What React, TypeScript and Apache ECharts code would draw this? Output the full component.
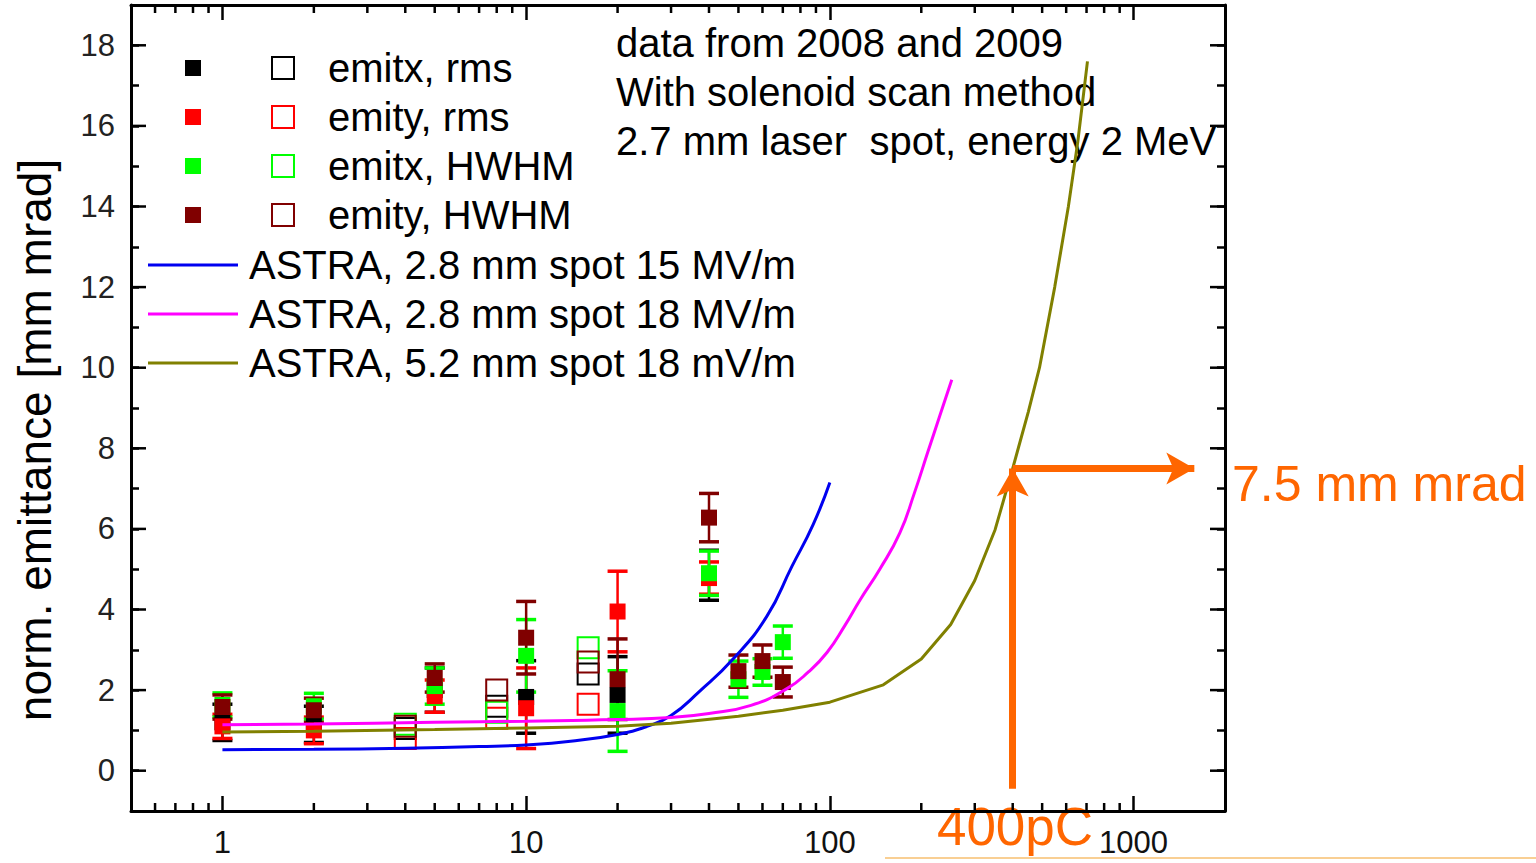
import React, { useEffect, useRef } from "react";
import * as echarts from "echarts";

const FONT = '"Liberation Sans", Arial, Helvetica, sans-serif';

// Axis ranges (x: bunch charge in pC, log scale; y: emittance)
const X_MIN = 0.5;
const X_MAX = 2000;
const Y_MIN = -1;
const Y_MAX = 19;

const xMinorTicks = [
  0.6, 0.7, 0.8, 0.9, 2, 3, 4, 5, 6, 7, 8, 9, 20, 30, 40, 50, 60, 70, 80, 90,
  200, 300, 400, 500, 600, 700, 800, 900,
];
const yMajorTicks = [0, 2, 4, 6, 8, 10, 12, 14, 16, 18];

// Measured points: [charge, emittance, error]
const emitxRms = [[1, 1.2, 0.45], [2, 1.15, 0.45], [5, 2.0, 0.55], [10, 1.83, 0.9], [20, 1.88, 0.95], [40, 4.85, 0.62]];
const emityRms = [[1, 1.1, 0.3], [2, 1.0, 0.33], [5, 1.85, 0.4], [10, 1.55, 1.0], [20, 3.95, 1.0], [40, 4.78, 0.4]];
const emitxHwhm = [[1, 1.63, 0.3], [2, 1.6, 0.32], [5, 2.1, 0.45], [10, 2.85, 0.9], [20, 1.48, 1.0], [40, 4.9, 0.55], [50, 2.27, 0.45], [60, 2.45, 0.33], [70, 3.19, 0.4]];
const emityHwhm = [[1, 1.58, 0.3], [2, 1.5, 0.3], [5, 2.3, 0.35], [10, 3.3, 0.9], [20, 2.27, 1.0], [40, 6.28, 0.6], [50, 2.47, 0.4], [60, 2.72, 0.4], [70, 2.2, 0.37]];

// Open-symbol points: [charge, emittance]
const emitxRmsOpen = [[4, 1.05], [8, 1.6], [16, 2.4]];
const emityRmsOpen = [[4, 0.8], [8, 1.3], [16, 1.65]];
const emitxHwhmOpen = [[4, 1.15], [8, 1.45], [16, 3.05]];
const emityHwhmOpen = [[4, 1.1], [8, 2.0], [16, 2.7]];

// ASTRA simulations
const astra15X = [1, 2, 4, 7, 10, 14, 20, 25, 30, 37, 48, 62, 75, 88, 100];
const astra15Y = [0.52, 0.53, 0.56, 0.6, 0.64, 0.73, 0.9, 1.1, 1.37, 1.95, 2.77, 3.83, 5.07, 6.1, 7.15];
const astra18X = [1, 2, 5, 10, 20, 30, 40, 55, 72, 85, 98, 112, 126, 146, 170, 190, 210, 230, 252];
const astra18Y = [1.14, 1.16, 1.2, 1.23, 1.27, 1.32, 1.42, 1.62, 2.03, 2.45, 2.94, 3.6, 4.25, 5.0, 5.9, 6.9, 7.9, 8.8, 9.7];
const astraWideX = [1, 2, 5, 10, 20, 30, 50, 70, 100, 150, 200, 250, 300, 350, 400, 450, 490, 550, 610, 655, 705];
const astraWideY = [0.96, 0.98, 1.02, 1.06, 1.1, 1.18, 1.35, 1.5, 1.7, 2.13, 2.77, 3.63, 4.72, 5.98, 7.5, 8.9, 10.0, 12.0, 14.0, 15.6, 17.6];

// Highlighted working point
const markCharge = 400;
const markEmittance = 7.5;

const pointLegend = ["emitx, rms", "emity, rms", "emitx, HWHM", "emity, HWHM"];
const pointColors = ["#000000", "#FF0000", "#00FF00", "#800000"];
const lineLegend = [
  "ASTRA, 2.8 mm spot 15 MV/m",
  "ASTRA, 2.8 mm spot 18 MV/m",
  "ASTRA, 5.2 mm spot 18 mV/m",
];
const lineColors = ["#0000F0", "#FF00FF", "#808000"];
const infoLines = [
  "data from 2008 and 2009",
  "With solenoid scan method",
  "2.7 mm laser  spot, energy 2 MeV",
];

const ORANGE = "#FF6600";

function zip(xs: number[], ys: number[]) {
  return xs.map((x, i) => [x, ys[i]]);
}

function textEl(text: string, x: number, y: number, size: number, color: string, align = "left", extra: any = {}) {
  return {
    type: "text",
    x,
    y,
    silent: true,
    ...extra,
    style: {
      text,
      fill: color,
      font: `${size}px ${FONT}`,
      align,
      textAlign: align,
      verticalAlign: "middle",
      textVerticalAlign: "middle",
    },
  };
}

function errorBarSeries(data: number[][], color: string) {
  return {
    type: "custom",
    coordinateSystem: "cartesian2d",
    silent: true,
    clip: false,
    data,
    encode: { x: 0, y: 1 },
    renderItem: (_p: any, api: any) => {
      const x = api.value(0);
      const y = api.value(1);
      const e = api.value(2);
      const hi = api.coord([x, y + e]);
      const lo = api.coord([x, y - e]);
      const w = 10;
      return {
        type: "group",
        children: [
          { type: "line", shape: { x1: hi[0], y1: hi[1], x2: lo[0], y2: lo[1] }, style: { stroke: color, lineWidth: 2.5 } },
          { type: "line", shape: { x1: hi[0] - w, y1: hi[1], x2: hi[0] + w, y2: hi[1] }, style: { stroke: color, lineWidth: 3.5 } },
          { type: "line", shape: { x1: lo[0] - w, y1: lo[1], x2: lo[0] + w, y2: lo[1] }, style: { stroke: color, lineWidth: 3.5 } },
        ],
      };
    },
  };
}

export default function App() {
  const ref = useRef<HTMLDivElement>(null);

  useEffect(() => {
    if (!ref.current) return;
    const chart = echarts.init(ref.current, undefined, { renderer: "svg" });

    const filledSets = [emitxRms, emityRms, emitxHwhm, emityHwhm];
    const openSets = [emitxRmsOpen, emityRmsOpen, emitxHwhmOpen, emityHwhmOpen];

    const series: any[] = [];

    // minor ticks on the log axes (bottom and top)
    series.push({
      type: "custom",
      coordinateSystem: "cartesian2d",
      silent: true,
      clip: false,
      data: xMinorTicks.map((v) => [v, Y_MIN]),
      encode: { x: 0, y: 1 },
      renderItem: (_p: any, api: any) => {
        const x = api.value(0);
        const b = api.coord([x, Y_MIN]);
        const t = api.coord([x, Y_MAX]);
        const s = { stroke: "#000", lineWidth: 2.5 };
        return {
          type: "group",
          children: [
            { type: "line", shape: { x1: b[0], y1: b[1], x2: b[0], y2: b[1] - 8 }, style: s },
            { type: "line", shape: { x1: t[0], y1: t[1], x2: t[0], y2: t[1] + 8 }, style: s },
          ],
        };
      },
    });

    // major ticks on the left and right value axes
    series.push({
      type: "custom",
      coordinateSystem: "cartesian2d",
      silent: true,
      clip: false,
      data: yMajorTicks.map((v) => [X_MIN, v]),
      encode: { x: 0, y: 1 },
      renderItem: (_p: any, api: any) => {
        const y = api.value(1);
        const l = api.coord([X_MIN, y]);
        const r = api.coord([X_MAX, y]);
        const s = { stroke: "#000", lineWidth: 2.5 };
        return {
          type: "group",
          children: [
            { type: "line", shape: { x1: l[0], y1: l[1], x2: l[0] + 15, y2: l[1] }, style: s },
            { type: "line", shape: { x1: r[0], y1: r[1], x2: r[0] - 15, y2: r[1] }, style: s },
          ],
        };
      },
    });

    filledSets.forEach((set, i) => {
      series.push(errorBarSeries(set, pointColors[i]));
      series.push({
        type: "scatter",
        name: pointLegend[i],
        data: set.map((d) => [d[0], d[1]]),
        symbol: "rect",
        symbolSize: 16,
        itemStyle: { color: pointColors[i], opacity: 1 },
        silent: true,
      });
    });

    openSets.forEach((set, i) => {
      series.push({
        type: "scatter",
        name: pointLegend[i] + " (open)",
        data: set,
        symbol: "rect",
        symbolSize: 21,
        itemStyle: { color: "rgba(0,0,0,0)", borderColor: pointColors[i], borderWidth: 2, opacity: 1 },
        silent: true,
      });
    });

    const curves = [zip(astra15X, astra15Y), zip(astra18X, astra18Y), zip(astraWideX, astraWideY)];
    curves.forEach((data, i) => {
      const s: any = {
        type: "line",
        name: lineLegend[i],
        data,
        showSymbol: false,
        symbol: "none",
        smooth: i < 2 ? 0.5 : false,
        lineStyle: { color: lineColors[i], width: 3 },
        silent: true,
      };
      if (i === 2) {
        s.markLine = {
          silent: true,
          animation: false,
          symbol: ["none", "arrow"],
          symbolSize: [24, 28],
          label: { show: false },
          emphasis: { disabled: true },
          lineStyle: { color: ORANGE, width: 7, type: "solid" },
          data: [
            [{ coord: [markCharge, -0.45] }, { coord: [markCharge, markEmittance] }],
            [{ coord: [markCharge, markEmittance] }, { coord: [1585, markEmittance] }],
          ],
        };
      }
      series.push(s);
    });

    const axisLineStyle = { color: "#000", width: 3 };
    const logFormatter = (v: number) => {
      const p = Math.log10(v);
      const r = Math.round(p);
      return Math.abs(p - r) < 1e-6 && r >= 0 ? String(Math.pow(10, r)) : "";
    };

    const graphic: any[] = [];
    // legend: measured points
    pointLegend.forEach((name, i) => {
      const cy = 68 + i * 49;
      graphic.push({
        type: "rect",
        silent: true,
        shape: { x: 185, y: cy - 8, width: 16, height: 16 },
        style: { fill: pointColors[i] },
      });
      graphic.push({
        type: "rect",
        silent: true,
        shape: { x: 272, y: cy - 11, width: 22, height: 22 },
        style: { fill: "none", stroke: pointColors[i], lineWidth: 2 },
      });
      graphic.push(textEl(name, 328, cy, 40, "#000"));
    });
    // legend: simulation curves
    lineLegend.forEach((name, i) => {
      const cy = 265 + i * 49;
      graphic.push({
        type: "line",
        silent: true,
        shape: { x1: 148, y1: cy, x2: 238, y2: cy },
        style: { stroke: lineColors[i], lineWidth: 3 },
      });
      graphic.push(textEl(name, 249, cy, 40, "#000"));
    });
    infoLines.forEach((t, i) => graphic.push(textEl(t, 616, 43 + i * 49, 40, "#000")));
    graphic.push(textEl("norm. emittance [mm mrad]", 35, 440, 46, "#000", "center", { rotation: Math.PI / 2 }));
    graphic.push(textEl("7.5 mm mrad", 1232, 484, 50, ORANGE));
    graphic.push(textEl("400pC", 1015, 826, 53, ORANGE, "center"));
    graphic.push({
      type: "line",
      silent: true,
      shape: { x1: 885, y1: 858, x2: 1536, y2: 858 },
      style: { stroke: "#F9CF93", lineWidth: 2 },
    });

    chart.setOption({
      animation: false,
      backgroundColor: "#ffffff",
      grid: { left: 131, top: 5, right: 311, bottom: 52, containLabel: false },
      xAxis: [
        {
          type: "log",
          logBase: 10,
          min: X_MIN,
          max: X_MAX,
          position: "bottom",
          axisLine: { show: true, onZero: false, lineStyle: axisLineStyle },
          axisTick: { show: true, inside: true, length: 15, lineStyle: { color: "#000", width: 2.5 } },
          axisLabel: { formatter: logFormatter, fontSize: 31, color: "#111", fontFamily: FONT, margin: 16 },
          splitLine: { show: false },
          minorTick: { show: false },
        },
        {
          type: "log",
          logBase: 10,
          min: X_MIN,
          max: X_MAX,
          position: "top",
          axisLine: { show: true, onZero: false, lineStyle: axisLineStyle },
          axisTick: { show: true, inside: true, length: 15, lineStyle: { color: "#000", width: 2.5 } },
          axisLabel: { show: false },
          splitLine: { show: false },
        },
      ],
      yAxis: [
        {
          type: "value",
          min: Y_MIN,
          max: Y_MAX,
          interval: 1,
          position: "left",
          axisLine: { show: true, onZero: false, lineStyle: axisLineStyle },
          axisTick: { show: true, inside: true, length: 8, lineStyle: { color: "#000", width: 2.5 } },
          axisLabel: {
            formatter: (v: number) => (v >= 0 && v <= 18 && v % 2 === 0 ? String(v) : ""),
            fontSize: 31,
            color: "#222",
            fontFamily: FONT,
            margin: 16,
          },
          splitLine: { show: false },
        },
        {
          type: "value",
          min: Y_MIN,
          max: Y_MAX,
          interval: 1,
          position: "right",
          axisLine: { show: true, onZero: false, lineStyle: axisLineStyle },
          axisTick: { show: true, inside: true, length: 8, lineStyle: { color: "#000", width: 2.5 } },
          axisLabel: { show: false },
          splitLine: { show: false },
        },
      ],
      series,
      graphic,
    });

    return () => chart.dispose();
  }, []);

  return (
    <div
      ref={ref}
      style={{ position: "fixed", left: 0, top: 0, width: 1536, height: 863, background: "#fff" }}
    />
  );
}
